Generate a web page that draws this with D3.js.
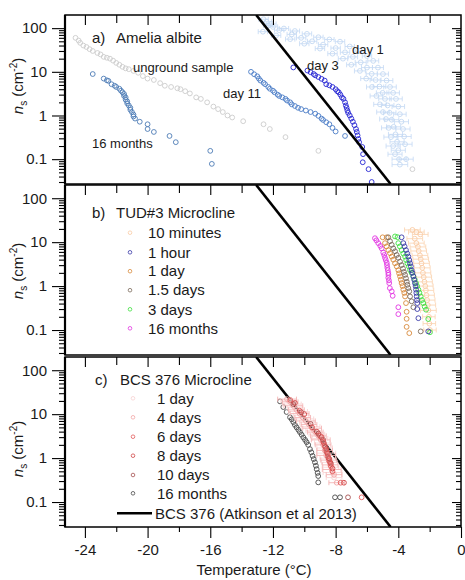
<!DOCTYPE html>
<html>
<head>
<meta charset="utf-8">
<script src="https://cdn.jsdelivr.net/npm/d3@7"></script>
<style>
  body { margin: 0; background: #fff; }
  svg { font-family: "Liberation Sans", Arial, sans-serif; }
</style>
</head>
<body>
<script>
// ---- data: [temperature degC, ns cm^-2, (x error)] ----
let ameliaUnground = [[-24.6,60],[-24.4,52],[-24.3,46],[-24.1,40],[-23.9,37],[-23.7,33],[-23.5,30],[-23.2,27],[-23.0,25],[-22.8,22],[-22.6,21],[-22.4,20],[-22.2,18],[-22.0,16],[-21.8,14.5],[-21.6,13],[-21.4,12],[-21.2,11.5],[-20.9,10.5],[-20.6,9.5],[-20.3,8],[-20.0,7],[-19.6,6.5],[-19.2,5.5],[-18.9,4.8],[-18.5,4.5],[-18.1,4.2],[-17.9,4],[-17.6,3.6],[-17.3,3.2],[-16.9,2.6],[-16.6,2.4],[-16.2,2.0],[-15.8,1.6],[-15.5,1.4],[-15.2,1.2],[-14.9,1.0],[-14.6,0.9],[-13.9,0.74],[-12.6,0.63],[-12.2,0.49],[-11.2,0.32],[-9.1,0.155],[-3.1,0.059]];
let amelia16Months = [[-23.5,8.9],[-22.8,7],[-22.6,6.4],[-22.5,6.2],[-22.3,5.2],[-22.1,4.8],[-22.0,4.5],[-21.8,4.1],[-21.7,3.7],[-21.6,3.4],[-21.5,3.1],[-21.5,2.8],[-21.4,2.6],[-21.4,2.3],[-21.3,2.1],[-21.3,1.9],[-21.2,1.7],[-21.1,1.5],[-21.1,1.35],[-21.0,1.2],[-20.9,1.05],[-20.9,0.95],[-20.8,0.85],[-20.5,0.72],[-20.0,0.63],[-20.0,0.49],[-19.6,0.42],[-18.6,0.34],[-18.2,0.245],[-16.0,0.155],[-15.9,0.078]];
let ameliaDay11 = [[-13.4,10],[-13.2,8.8],[-13.0,7.9],[-12.9,7],[-12.8,6.3],[-12.6,5.6],[-12.5,5.2],[-12.3,4.5],[-12.2,4.1],[-12.0,3.7],[-11.9,3.4],[-11.7,3.0],[-11.6,2.8],[-11.4,2.6],[-11.2,2.4],[-11.1,2.2],[-10.9,2.0],[-10.8,1.8],[-10.6,1.65],[-10.4,1.5],[-10.2,1.4],[-9.9,1.3],[-9.6,1.2],[-9.3,1.1],[-9.1,0.98],[-8.9,0.85],[-8.8,0.79],[-8.6,0.7],[-8.4,0.63],[-8.2,0.52],[-8.0,0.43],[-7.4,0.34]];
let ameliaDay3 = [[-10.7,12.6],[-9.8,10.7],[-9.6,9.8],[-9.4,8.9],[-9.3,8.3],[-9.1,7.6],[-8.9,6.9],[-8.7,6.3],[-8.6,5.2],[-8.4,4.9],[-8.2,4.5],[-8.0,4.0],[-7.9,3.6],[-7.8,3.4],[-7.7,3.0],[-7.6,2.6],[-7.5,2.4],[-7.4,2.0],[-7.35,1.7],[-7.3,1.5],[-7.25,1.3],[-7.2,1.15],[-7.1,1.0],[-7.0,0.85],[-6.9,0.72],[-6.8,0.6],[-6.7,0.49],[-6.65,0.42],[-6.6,0.35],[-6.55,0.29],[-6.5,0.245],[-6.3,0.19],[-6.25,0.13],[-6.27,0.085],[-5.9,0.059],[-5.7,0.03]];
let ameliaDay1 = [[-12.6,160,0.3],[-12.4,140,0.3],[-12.1,125,0.3],[-12.0,107,0.3],[-11.3,98,0.3],[-10.6,86,0.3],[-9.83,74,0.3],[-9.1,62,0.3],[-8.4,55,0.3],[-7.72,49,0.3],[-7.1,38,0.3],[-6.45,30,0.3],[-6.0,23,0.3],[-5.6,17.8,0.35],[-5.3,12.5,0.35],[-4.98,8.9,0.35],[-4.75,6.3,0.4],[-4.53,4.5,0.4],[-4.33,3.3,0.4],[-4.15,2.4,0.4],[-4.0,1.6,0.4],[-3.9,1.07,0.4],[-3.8,0.72,0.45],[-3.7,0.49,0.45],[-3.63,0.33,0.45],[-3.57,0.22,0.45],[-3.5,0.1,0.45],
  [-12.3,115,0.3],[-11.6,90,0.3],[-10.8,72,0.3],[-10.2,60,0.3],[-9.5,50,0.3],[-8.8,42,0.3],[-8.0,35,0.3],[-7.4,28,0.3],[-6.9,22,0.3],[-6.4,16.5,0.35],[-6.0,12.5,0.35],[-5.7,9,0.35],[-5.45,6.5,0.35],[-5.2,4.6,0.4],[-5.0,3.3,0.4],[-4.85,2.4,0.4],[-4.68,1.7,0.4],[-4.55,1.15,0.4],[-4.42,0.8,0.45],[-4.3,0.55,0.45],[-4.18,0.37,0.45],[-4.08,0.25,0.45],[-4.0,0.16,0.45],[-3.95,0.1,0.45],[-3.9,0.075,0.5],
  [-12.64,83,0.3],[-11.8,68,0.3],[-10.9,56,0.3],[-10.0,44,0.3],[-9.0,34,0.3],[-8.2,26,0.3],[-7.53,20,0.3],[-7.0,14.5,0.3],[-6.45,10.5,0.35],[-6.05,7,0.35],[-5.68,4.5,0.35],[-5.4,2.8,0.4],[-5.17,1.8,0.4],[-4.98,1.2,0.4],[-4.79,0.83,0.4],[-4.62,0.52,0.45],[-4.47,0.32,0.45],[-4.33,0.2,0.45],[-4.21,0.13,0.45]];

let tud10Min = [[-3.1,19,0.5],[-2.85,17,0.5],[-2.6,15,0.5],[-2.95,12,0.5],[-2.85,9.5,0.5],[-2.75,7.8,0.5],[-2.7,6.3,0.5],[-2.62,5,0.5],[-2.57,4.1,0.5],[-2.52,3.3,0.5],[-2.47,2.6,0.5],[-2.43,2.0,0.5],[-2.38,1.6,0.5],[-2.33,1.25,0.5],[-2.28,1.0,0.5],[-2.24,0.8,0.5],[-2.2,0.62,0.5],[-2.16,0.48,0.5],[-2.12,0.37,0.5],[-2.08,0.28,0.5],[-2.05,0.2,0.4],[-2.02,0.14,0.4],[-1.98,0.1,0.4]];
let tud1Hour = [[-3.79,12.9],[-3.68,9.5],[-3.6,8],[-3.51,6.6],[-3.43,5.5],[-3.36,4.7],[-3.3,3.9],[-3.25,3.3],[-3.2,2.8],[-3.15,2.3],[-3.1,2.0],[-3.04,1.66],[-2.99,1.4],[-2.94,1.17],[-2.9,1.0],[-2.87,0.83],[-2.85,0.7],[-2.83,0.58],[-2.81,0.48],[-2.79,0.41],[-2.79,0.3],[-2.72,0.186],[-2.09,0.093]];
let tud1Day = [[-5.0,12.9],[-4.74,12.9],[-4.85,9.5],[-4.75,8.0],[-4.64,6.6],[-4.53,5.6],[-4.42,4.7],[-4.32,4.0],[-4.21,3.3],[-4.1,2.8],[-4.0,2.3],[-3.95,1.95],[-3.89,1.66],[-3.84,1.4],[-3.79,1.17],[-3.73,1.0],[-3.68,0.83],[-3.62,0.7],[-3.57,0.58],[-3.51,0.41],[-3.47,0.26],[-3.47,0.18],[-3.47,0.118],[-3.30,0.085]];
let tud1p5Days = [[-4.64,12.9],[-4.53,10.5],[-4.42,8.7],[-4.32,7.2],[-4.21,6.2],[-4.1,5.1],[-4.0,4.4],[-3.89,3.6],[-3.79,3.0],[-3.7,2.5],[-3.64,2.1],[-3.57,1.8],[-3.51,1.5],[-3.46,1.25],[-3.42,1.07],[-3.36,0.9],[-3.30,0.76],[-3.25,0.58],[-3.15,0.45],[-3.04,0.33],[-2.57,0.093]];
let tud3Days = [[-4.21,13.5],[-4.05,13],[-4.0,9.5],[-3.9,8],[-3.79,6.6],[-3.68,5.5],[-3.57,4.7],[-3.5,3.9],[-3.42,3.3],[-3.33,2.8],[-3.25,2.3],[-3.15,2.0],[-3.04,1.66],[-2.95,1.4],[-2.87,1.17],[-2.8,1.0],[-2.72,0.83],[-2.65,0.7],[-2.57,0.58],[-2.49,0.48],[-2.41,0.41],[-2.32,0.34],[-2.23,0.29],[-2.09,0.178],[-1.98,0.089]];
let tud16Months = [[-5.49,12.3],[-5.4,11],[-5.28,9.5],[-5.15,8.2],[-5.06,7.2],[-4.96,5.8],[-4.9,5.1],[-4.85,4.4],[-4.8,3.9],[-4.74,3.4],[-4.72,3.0],[-4.70,2.6],[-4.67,2.3],[-4.64,2.0],[-4.63,1.8],[-4.64,1.55],[-4.6,1.35],[-4.58,1.17],[-4.54,0.9],[-4.42,0.76],[-4.36,0.6],[-4.0,0.33],[-4.0,0.23]];

let bcs1Day = [[-11.0,20,0.5],[-10.8,17,0.6],[-10.6,14,0.5],[-10.4,11.5,0.6],[-10.2,9.5,0.5],[-10.0,7.8,0.6],[-9.8,6.4,0.5],[-9.6,5.2,0.6],[-9.4,4.2,0.5],[-9.2,3.5,0.5],[-9.0,2.8,0.5],[-8.85,2.2,0.5],[-8.7,1.7,0.5],[-8.6,1.3,0.6],[-8.5,1.0,0.5],[-8.4,0.8,0.5],[-8.3,0.62,0.5],[-8.2,0.47,0.6],[-8.1,0.36,0.5]];
let bcs4Days = [[-11.1,22,0.6],[-10.9,19,0.5],[-10.7,15.5,0.6],[-10.5,12.5,0.5],[-10.3,10.3,0.6],[-10.1,8.4,0.5],[-9.9,7,0.6],[-9.7,5.8,0.5],[-9.5,4.8,0.6],[-9.3,3.9,0.5],[-9.1,3.2,0.5],[-8.95,2.6,0.6],[-8.8,2.0,0.5],[-8.7,1.5,0.5],[-8.6,1.15,0.6],[-8.45,0.9,0.5],[-8.35,0.7,0.5],[-8.25,0.55,0.6],[-8.1,0.42,0.5],[-7.93,0.275,0.5]];
let bcs6Days = [[-10.9,21],[-10.3,12],[-9.5,5],[-9.0,3.2],[-8.8,2.4],[-8.7,1.9],[-8.6,1.45],[-8.5,1.1],[-8.4,0.85],[-8.3,0.66],[-8.2,0.5],[-7.68,0.275],[-6.34,0.128]];
let bcs8Days = [[-10.6,18],[-10.0,10],[-9.2,4],[-8.9,3],[-8.75,2.2],[-8.6,1.6],[-8.5,1.25],[-8.4,0.95],[-8.3,0.75],[-8.2,0.58],[-7.47,0.275]];
let bcs10Days = [[-10.7,17],[-10.2,11],[-9.6,6],[-9.1,3.6],[-8.8,2.6],[-8.65,1.8],[-8.55,1.35],[-8.45,1.0],[-8.35,0.8],[-7.21,0.128]];
let bcs16Months = [[-11.55,19.5],[-11.34,14.5],[-11.13,11.2],[-10.91,8.5],[-10.8,7.6],[-10.70,6.6],[-10.6,5.7],[-10.49,5.0],[-10.38,4.4],[-10.28,3.9],[-10.17,3.4],[-10.06,2.95],[-9.95,2.6],[-9.85,2.3],[-9.75,2.0],[-9.64,1.6],[-9.55,1.35],[-9.47,1.12],[-9.4,0.95],[-9.32,0.8],[-9.26,0.67],[-9.21,0.56],[-9.15,0.46],[-9.11,0.39],[-9.11,0.28],[-8.04,0.128],[-7.72,0.128]];

// BCS 376 parameterisation (Atkinson et al 2013), ends read where it meets the frame
let atkinsonLine = [[-13.07,200],[-4.49,0.027]];

let tudLabels = ["10 minutes","1 hour","1 day","1.5 days","3 days","16 months"];
let bcsLabels = ["1 day","4 days","6 days","8 days","10 days","16 months"];
let xTicks = [-24,-20,-16,-12,-8,-4,0];
let yTicks = [0.1,1,10,100];

// ---- layout ----
let x0 = 65, x1 = 461;
let panels = [
  { top: 15, bottom: 184, labelY: 86 },
  { top: 185, bottom: 355, labelY: 271 },
  { top: 357, bottom: 527, labelY: 449 }
];

let x = d3.scaleLinear().domain([-25.27, 0]).range([x0, x1]);

let yMinor = [];
[0.01, 0.1, 1, 10, 100].forEach(function (b) {
  d3.range(2, 10).forEach(function (k) {
    let v = +(b * k).toPrecision(3);
    if (v > 0.027 && v < 200) yMinor.push(v);
  });
});

let svg = d3.select("body").append("svg")
  .attr("width", 465)
  .attr("height", 580);

let textColor = "#1a1a1a";

function circles(g, y, data, color, r) {
  g.append("g")
    .selectAll("circle")
    .data(data)
    .enter()
    .append("circle")
    .attr("cx", (d) => x(d[0]))
    .attr("cy", (d) => y(d[1]))
    .attr("r", r || 2.4)
    .attr("fill", "none")
    .attr("stroke", color)
    .attr("stroke-width", 0.9);
}

function errorBars(g, y, data, color) {
  let eb = g.append("g").attr("stroke", color).attr("stroke-width", 0.9);
  data.forEach(function (d) {
    let yy = y(d[1]);
    eb.append("line").attr("x1", x(d[0] - d[2])).attr("x2", x(d[0] + d[2])).attr("y1", yy).attr("y2", yy);
    eb.append("line").attr("x1", x(d[0] - d[2])).attr("x2", x(d[0] - d[2])).attr("y1", yy - 2.5).attr("y2", yy + 2.5);
    eb.append("line").attr("x1", x(d[0] + d[2])).attr("x2", x(d[0] + d[2])).attr("y1", yy - 2.5).attr("y2", yy + 2.5);
  });
}

function drawLine(g, y) {
  g.append("path")
    .datum(atkinsonLine)
    .attr("d", d3.line().x((d) => x(d[0])).y((d) => y(d[1])))
    .attr("fill", "none")
    .attr("stroke", "#000")
    .attr("stroke-width", 2.6);
}

function text(t, px, py, size, anchor) {
  return svg.append("text")
    .attr("x", px)
    .attr("y", py)
    .attr("dy", "0.35em")
    .attr("font-size", size)
    .attr("fill", textColor)
    .attr("text-anchor", anchor || "start")
    .text(t);
}

panels.forEach(function (p, i) {
  let y = d3.scaleLog().domain([0.027, 200]).range([p.bottom, p.top]);
  p.y = y;

  svg.append("clipPath").attr("id", "clip" + i)
    .append("rect")
    .attr("x", x0).attr("y", p.top)
    .attr("width", x1 - x0).attr("height", p.bottom - p.top);

  p.g = svg.append("g").attr("clip-path", "url(#clip" + i + ")");

  // left axis, ticks outward
  let left = svg.append("g").attr("transform", "translate(" + x0 + ",0)");
  left.append("g").call(d3.axisLeft(y).tickValues(yMinor).tickSize(6).tickFormat(""));
  left.append("g").call(d3.axisLeft(y).tickValues(yTicks).tickSize(13).tickPadding(5).tickFormat(d3.format("~g")));

  // right axis, ticks inward
  let right = svg.append("g").attr("transform", "translate(" + x1 + ",0)");
  right.append("g").call(d3.axisLeft(y).tickValues(yMinor).tickSize(5).tickFormat(""));
  right.append("g").call(d3.axisLeft(y).tickValues(yTicks).tickSize(9).tickFormat(""));

  // top ticks, inward
  let top = svg.append("g").attr("transform", "translate(0," + p.top + ")");
  top.append("g").call(d3.axisBottom(x).tickValues(d3.range(-22, 0, 4)).tickSize(8).tickFormat(""));
  top.append("g").call(d3.axisBottom(x).tickValues(xTicks.slice(0, -1)).tickSize(10).tickFormat(""));

  svg.selectAll(".domain").remove();

  // frame
  svg.append("rect")
    .attr("x", x0).attr("y", p.top)
    .attr("width", x1 - x0).attr("height", p.bottom - p.top)
    .attr("fill", "none").attr("stroke", "#000").attr("stroke-width", 1.5);
  svg.append("line")
    .attr("x1", x0).attr("x2", x0).attr("y1", p.top).attr("y2", p.bottom)
    .attr("stroke", "#000").attr("stroke-width", 2.2);

  // y label: n_s (cm^-2)
  let lab = svg.append("text")
    .attr("transform", "translate(23," + p.labelY + ") rotate(-90)")
    .attr("text-anchor", "middle")
    .attr("font-size", 15)
    .attr("fill", textColor);
  lab.append("tspan").attr("font-style", "italic").text("n");
  lab.append("tspan").attr("font-size", 10).attr("dy", 4).text("s");
  lab.append("tspan").attr("dy", -4).text(" (cm");
  lab.append("tspan").attr("font-size", 10).attr("dy", -6).text("-2");
  lab.append("tspan").attr("dy", 6).text(")");
});

// bottom axis (hyphen minus, as in the figure)
let bottomAxis = svg.append("g").attr("transform", "translate(0," + panels[2].bottom + ")");
bottomAxis.append("g").call(d3.axisBottom(x).tickValues(d3.range(-22, 0, 4)).tickSize(5).tickFormat(""));
bottomAxis.append("g").call(d3.axisBottom(x).tickValues(xTicks).tickSize(11).tickPadding(6).tickFormat((d) => String(d)));
svg.selectAll(".domain").remove();
svg.selectAll(".tick line").attr("stroke", "#000").attr("stroke-width", 1.1);
svg.selectAll(".tick text").attr("font-size", 15).attr("fill", textColor)
  .attr("font-family", '"Liberation Sans", Arial, sans-serif');

text("Temperature (\u00B0C)", 254, 570, 15, "middle");

// ---- panel a ----
let pa = panels[0];
errorBars(pa.g, pa.y, ameliaDay1, "#c9ddf5");
circles(pa.g, pa.y, ameliaDay1, "#c3d8f2");
circles(pa.g, pa.y, ameliaUnground, "#cccccc");
circles(pa.g, pa.y, amelia16Months, "#4d7cb6");
circles(pa.g, pa.y, ameliaDay11, "#4a7cc6");
circles(pa.g, pa.y, ameliaDay3, "#2424d2");
drawLine(pa.g, pa.y);

text("a)", 92, 38, 15);
text("Amelia albite", 116, 38, 15);
text("unground sample", 133, 67, 13);
text("day 11", 223, 93, 13);
text("day 3", 307, 65, 13);
text("day 1", 352, 49, 13);
text("16 months", 92, 143, 13);

// ---- panel b ----
let pb = panels[1];
drawLine(pb.g, pb.y);
let tudColors = ["#f9cba4", "#3a3aa8", "#d88a3c", "#7a6a5a", "#3ee03e", "#e236e2"];
errorBars(pb.g, pb.y, tud10Min, "#fbd6b6");
circles(pb.g, pb.y, tud10Min, tudColors[0]);
circles(pb.g, pb.y, tud16Months, tudColors[5]);
circles(pb.g, pb.y, tud1Day, tudColors[2]);
circles(pb.g, pb.y, tud1p5Days, tudColors[3]);
circles(pb.g, pb.y, tud3Days, tudColors[4]);
circles(pb.g, pb.y, tud1Hour, tudColors[1]);

text("b)", 92, 213, 15);
text("TUD#3 Microcline", 116, 213, 15);
let tudLegY = [232.7, 252.3, 271.2, 290.2, 309.3, 328.3];
tudLabels.forEach(function (t, i) {
  svg.append("circle").attr("cx", 130).attr("cy", tudLegY[i]).attr("r", 1.8)
    .attr("fill", "none").attr("stroke", tudColors[i]).attr("stroke-width", 0.8);
  text(t, 148, tudLegY[i], 15);
});

// ---- panel c ----
let pc = panels[2];
drawLine(pc.g, pc.y);
let bcsColors = ["#f8d2d2", "#f2a6a6", "#e25a5a", "#d04646", "#a65252", "#4a4a4a"];
circles(pc.g, pc.y, bcs16Months, bcsColors[5]);
errorBars(pc.g, pc.y, bcs1Day, "#f9d6d6");
circles(pc.g, pc.y, bcs1Day, bcsColors[0]);
errorBars(pc.g, pc.y, bcs4Days, "#f4b4b4");
circles(pc.g, pc.y, bcs4Days, bcsColors[1]);
circles(pc.g, pc.y, bcs10Days, bcsColors[4]);
circles(pc.g, pc.y, bcs8Days, bcsColors[3]);
circles(pc.g, pc.y, bcs6Days, bcsColors[2]);

text("c)", 95, 380, 15);
text("BCS 376 Microcline", 120, 380, 15);
let bcsLegY = [398.3, 417.3, 436.7, 455.7, 475, 493.3];
bcsLabels.forEach(function (t, i) {
  svg.append("circle").attr("cx", 133).attr("cy", bcsLegY[i]).attr("r", 1.8)
    .attr("fill", "none").attr("stroke", bcsColors[i]).attr("stroke-width", 0.8);
  text(t, 157, bcsLegY[i], 15);
});
svg.append("line").attr("x1", 117).attr("x2", 152).attr("y1", 513.3).attr("y2", 513.3)
  .attr("stroke", "#000").attr("stroke-width", 2.6);
text("BCS 376 (Atkinson et al 2013)", 155, 513.3, 15);
</script>
</body>
</html>
